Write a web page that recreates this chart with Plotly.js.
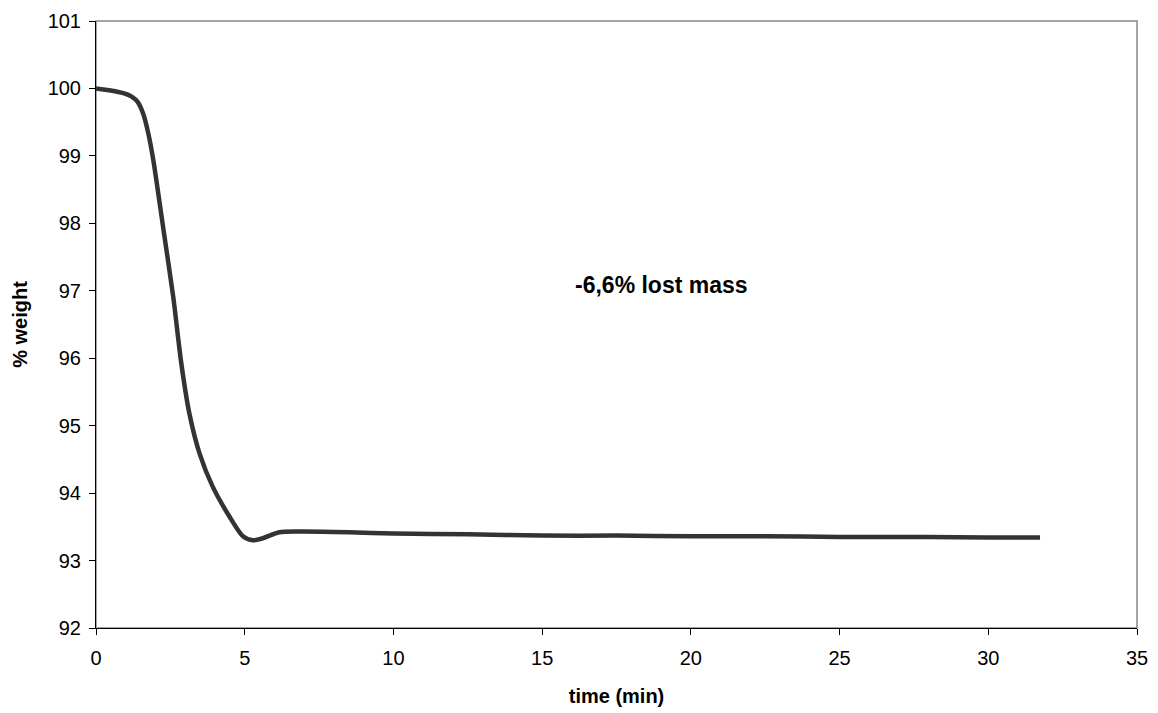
<!DOCTYPE html>
<html>
<head>
<meta charset="utf-8">
<script src="https://cdn.plot.ly/plotly-3.0.1.min.js"></script>
<style>html,body{margin:0;padding:0;background:#fff}#chart{width:1158px;height:713px}</style>
</head>
<body>
<div id="chart"></div>
<script>
const timeMin = [0, 0.5, 0.92, 1.2, 1.4, 1.59, 1.76, 1.93, 2.27, 2.60, 2.86, 3.14, 3.48, 3.92, 4.49, 4.94, 5.27, 5.60, 6.16, 6.83, 8.51, 10, 12.5, 15, 17.5, 20, 22.5, 25, 28, 30, 31.74];
const weightPct = [100.0, 99.97, 99.93, 99.88, 99.80, 99.62, 99.33, 98.93, 97.90, 96.90, 95.95, 95.18, 94.59, 94.10, 93.65, 93.36, 93.30, 93.33, 93.42, 93.43, 93.42, 93.40, 93.39, 93.37, 93.37, 93.36, 93.36, 93.35, 93.35, 93.34, 93.34];
const annotationText = "-6,6% lost mass";
const xTicks = [0, 5, 10, 15, 20, 25, 30, 35];
const yTicks = [92, 93, 94, 95, 96, 97, 98, 99, 100, 101];

const trace = {
  x: timeMin, y: weightPct, type: 'scatter', mode: 'lines',
  line: {color: '#333333', width: 4.5, shape: 'spline', smoothing: 0.7},
  hoverinfo: 'skip'
};
const fam = 'Liberation Sans, Arial, sans-serif';
const layout = {
  width: 1158, height: 713,
  margin: {l: 96, r: 21, t: 21, b: 85},
  paper_bgcolor: '#fff', plot_bgcolor: '#fff',
  showlegend: false,
  font: {family: fam, color: '#000'},
  xaxis: {
    range: [0, 35], tickvals: xTicks, ticktext: xTicks.map(String),
    showgrid: false, zeroline: false, showline: true, linecolor: '#000', linewidth: 1,
    ticks: 'outside', ticklen: 6, tickcolor: '#000', tickfont: {size: 20, family: fam},
    ticklabelstandoff: 6,
    title: {text: '<b>time (min)</b>', font: {size: 20, family: fam}, standoff: 20}
  },
  yaxis: {
    range: [92, 101], tickvals: yTicks, ticktext: yTicks.map(String),
    showgrid: false, zeroline: false, showline: true, linecolor: '#000', linewidth: 1,
    ticks: 'outside', ticklen: 6, tickcolor: '#000', tickfont: {size: 20, family: fam},
    ticklabelstandoff: 4,
    title: {text: '<b>% weight</b>', font: {size: 20, family: fam}, standoff: 14}
  },
  shapes: [{type: 'rect', xref: 'paper', yref: 'paper', x0: 0, x1: 1, y0: 0, y1: 1, line: {color: '#888', width: 1.5}, layer: 'below'}],
  annotations: [{x: 19.0, y: 97.09, xref: 'x', yref: 'y', text: '<b>' + annotationText + '</b>', showarrow: false, font: {size: 23, family: fam, color: '#000'}}]
};
Plotly.newPlot('chart', [trace], layout, {staticPlot: true, displayModeBar: false});
</script>
</body>
</html>
